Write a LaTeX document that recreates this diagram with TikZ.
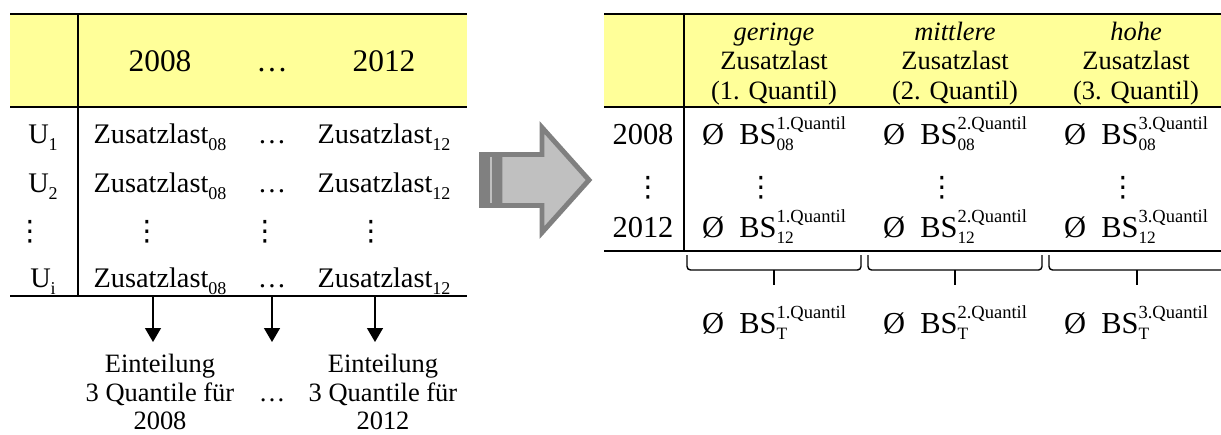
\documentclass[tikz,border=0pt]{standalone}
\usepackage{fontspec}
\setmainfont{Liberation Serif}
\newfontfamily\symbolschrift{DejaVu Sans}
\usetikzlibrary{arrows.meta}
\definecolor{kopfgelb}{HTML}{FFFF99}
\definecolor{pfeilgrau}{HTML}{C0C0C0}
\definecolor{randgrau}{HTML}{808080}
\newcommand{\tief}[1]{\raisebox{-3pt}{\fontsize{7.7}{8}\selectfont #1}}
\newcommand{\hochtief}[2]{\rlap{\raisebox{-2.6pt}{\fontsize{7.4}{8}\selectfont #2}}\raisebox{6pt}{\fontsize{7.9}{8}\selectfont #1}}
\newcommand{\bsq}[2]{Ø\enspace BS\hochtief{#1}{#2}}
\newcommand{\punkte}{{\symbolschrift\fontsize{12}{12}\selectfont ⋮}}

\begin{document}
\begin{tikzpicture}[x=0.015cm,y=-0.015cm]
\tikzset{kopf/.style={inner sep=0pt, anchor=base, font=\fontsize{13.4}{16}\selectfont},
  zelle/.style={inner sep=0pt, anchor=base, font=\fontsize{12.1}{14}\selectfont},
  punktzelle/.style={inner sep=0pt},
  unten/.style={inner sep=0pt, anchor=north, align=center, font=\fontsize{11.3}{12.2}\selectfont},
  quantkopf/.style={inner sep=0pt, anchor=north, align=center, font=\fontsize{11.3}{12.6}\selectfont},
  rechts/.style={inner sep=0pt, anchor=base, font=\fontsize{13}{15}\selectfont},
  linie/.style={line width=0.6pt},
  pfeil/.style={line width=0.6pt, -{Triangle[length=0.21cm, width=0.24cm]}},
  klammer/.style={line width=0.6pt, rounded corners=1.5pt}}
\useasboundingbox (0,0) rectangle (1221,434);

\fill[kopfgelb] (10,14) rectangle (467,107);
\draw[linie] (10,14) -- (467,14);
\draw[linie] (10,107) -- (467,107);
\draw[linie] (10,296) -- (467,296);
\draw[linie] (78,14) -- (78,296);
\node[kopf] (k08) at (160,71) {2008};
\node[kopf] (kdots) at (272,71) {…};
\node[kopf] (k12) at (384,71) {2012};
\node[zelle] (u1) at (43,143) {U\tief{1}};
\node[zelle] (z1a) at (160,143) {Zusatzlast\tief{08}};
\node[zelle] (z1b) at (272,143) {…};
\node[zelle] (z1c) at (384,143) {Zusatzlast\tief{12}};
\node[zelle] (u2) at (43,192) {U\tief{2}};
\node[zelle] (z2a) at (160,192) {Zusatzlast\tief{08}};
\node[zelle] (z2b) at (272,192) {…};
\node[zelle] (z2c) at (384,192) {Zusatzlast\tief{12}};
\node[punktzelle] (ud) at (30,232) {\punkte};
\node[punktzelle] (zda) at (147,232) {\punkte};
\node[punktzelle] (zdb) at (265,232) {\punkte};
\node[punktzelle] (zdc) at (371,232) {\punkte};
\node[zelle] (ui) at (43,287) {U\tief{i}};
\node[zelle] (zia) at (160,287) {Zusatzlast\tief{08}};
\node[zelle] (zib) at (272,287) {…};
\node[zelle] (zic) at (384,287) {Zusatzlast\tief{12}};

\coordinate (p1o) at (153,296);
\coordinate (p1u) at (153,342);
\coordinate (p2o) at (272,296);
\coordinate (p2u) at (272,342);
\coordinate (p3o) at (375,296);
\coordinate (p3u) at (375,342);
\draw[pfeil] (p1o) -- (p1u);
\draw[pfeil] (p2o) -- (p2u);
\draw[pfeil] (p3o) -- (p3u);
\node[unten] (ein08) at (160,352) {\strut Einteilung\\3 Quantile für\\2008};
\node[zelle, font=\fontsize{11.3}{12.2}\selectfont] (eindots) at (272,401) {…};
\node[unten] (ein12) at (383,352) {\strut Einteilung\\3 Quantile für\\2012};

\fill[randgrau] (479,152) rectangle (501,208);
\draw[pfeilgrau, line width=0.5pt] (491,157) -- (491,203);
\filldraw[fill=pfeilgrau, draw=randgrau, line width=2.1pt] (500,154.5) -- (542,154.5) -- (542,127.5) -- (589,180) -- (542,232.5) -- (542,205.5) -- (500,205.5) -- cycle;

\fill[kopfgelb] (604,14) rectangle (1221,107);
\draw[linie] (604,14) -- (1221,14);
\draw[linie] (604,107) -- (1221,107);
\draw[linie] (604,251) -- (1221,251);
\draw[linie] (684,14) -- (684,251);
\node[quantkopf] (gering) at (774,19) {\strut\textit{geringe}\\Zusatzlast\\(1. Quantil)};
\node[quantkopf] (mittel) at (955,19) {\strut\textit{mittlere}\\Zusatzlast\\(2. Quantil)};
\node[quantkopf] (hoch) at (1136,19) {\strut\textit{hohe}\\Zusatzlast\\(3. Quantil)};
\node[rechts] (r08) at (643,144) {2008};
\node[punktzelle] (rd) at (648,188) {\punkte};
\node[rechts] (r12) at (643,237) {2012};
\node[rechts] (b1a) at (774,144) {\bsq{1.Quantil}{08}};
\node[rechts] (b2a) at (955,144) {\bsq{2.Quantil}{08}};
\node[rechts] (b3a) at (1136,144) {\bsq{3.Quantil}{08}};
\node[punktzelle] (b1d) at (761,188) {\punkte};
\node[punktzelle] (b2d) at (942,188) {\punkte};
\node[punktzelle] (b3d) at (1123,188) {\punkte};
\node[rechts] (b1b) at (774,237) {\bsq{1.Quantil}{12}};
\node[rechts] (b2b) at (955,237) {\bsq{2.Quantil}{12}};
\node[rechts] (b3b) at (1136,237) {\bsq{3.Quantil}{12}};

\draw[klammer] (687,255) -- (687,270) -- (861,270) -- (861,255);
\draw[klammer] (774,270) -- (774,285);
\draw[klammer] (868,255) -- (868,270) -- (1042,270) -- (1042,255);
\draw[klammer] (955,270) -- (955,285);
\draw[klammer] (1049,255) -- (1049,270) -- (1225,270) -- (1225,255);
\draw[klammer] (1137,270) -- (1137,285);
\node[rechts] (t1) at (774,333) {\bsq{1.Quantil}{T}};
\node[rechts] (t2) at (955,333) {\bsq{2.Quantil}{T}};
\node[rechts] (t3) at (1136,333) {\bsq{3.Quantil}{T}};
\end{tikzpicture}
\end{document}
